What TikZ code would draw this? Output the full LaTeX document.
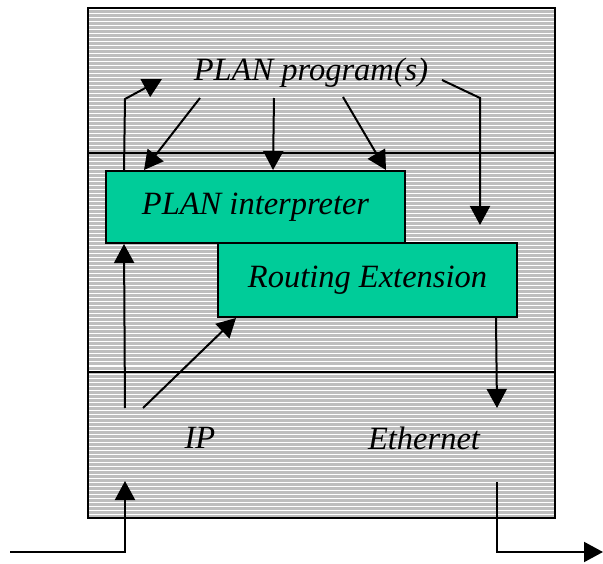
\documentclass[tikz,border=0pt]{standalone}
\usepackage{fontspec}
\setmainfont{Liberation Serif}
\usetikzlibrary{arrows.meta,calc}
\definecolor{stackgray}{RGB}{190,190,190}
\definecolor{modgreen}{RGB}{0,204,153}
\begin{document}
\begin{tikzpicture}[x=1pt,y=-1pt,
  frame/.style={draw=black,line width=2pt},
  modbox/.style={draw=black,line width=2pt,fill=modgreen,minimum width=299pt,
    inner sep=0pt,font=\fontsize{32.5}{38}\selectfont\itshape},
  caption/.style={inner sep=0pt,font=\fontsize{32.5}{38}\selectfont\itshape},
  arr/.style={line width=2pt,-{Triangle[length=19pt,width=20pt]}},
  plain/.style={line width=2pt}]
\useasboundingbox (0,0) rectangle (603,564);

% layered protocol stack with horizontal hatching
\fill[stackgray] (88,8) rectangle (555,518);
\begin{scope}
  \clip (88,8) rectangle (555,518);
  \foreach \y in {10,14,...,518}
    \draw[white,line width=1pt] (88,\y) -- (555,\y);
\end{scope}
\draw[frame] (88,8) rectangle (555,518);
\draw[frame] (88,153) -- (555,153);
\draw[frame] (88,372) -- (555,372);

% modules and labels
\node[modbox,minimum height=72pt] (interp) at (255.5,207) {PLAN interpreter};
\node[modbox,minimum height=74pt] (route) at (367.5,280) {Routing Extension};
\node[caption] (prog) at (311,73) {PLAN program(s)};
\node[caption] (ip) at (200,438) {IP};
\node[caption] (eth) at (424,438) {Ethernet};

% free ends of the connectors
\coordinate (upbend) at (125,99);
\coordinate (uptip) at (162,79);
\coordinate (pA) at (200,98);
\coordinate (pB) at (274,98);
\coordinate (pC) at (343,97);
\coordinate (pD) at (442,80);
\coordinate (pDbend) at (480,98);
\coordinate (pDtip) at (480,225);
\coordinate (ipA) at (125,408);
\coordinate (ipB) at (143,408);
\coordinate (ethIn) at (497,408);
\coordinate (inStart) at (10,552);
\coordinate (inTip) at (125,481);
\coordinate (outStart) at (497,482);
\coordinate (outTip) at (603,552);

% program flow
\draw[arr] ($(interp.north west)+(19,0)$) -- (upbend) -- (uptip);
\draw[arr] (pA) -- ($(interp.north west)+(39,0)$);
\draw[arr] (pB) -- ($(interp.north west)+(168,0)$);
\draw[arr] (pC) -- ($(interp.north west)+(281,0)$);
\draw[arr] (pD) -- (pDbend) -- (pDtip);

% packet flow through the layers
\draw[arr] (ipA) -- ($(interp.south west)+(19,0)$);
\draw[arr] (ipB) -- ($(route.south west)+(19,0)$);
\draw[arr] ($(route.south west)+(279,0)$) -- (ethIn);
\draw[arr] (inStart) -| (inTip);
\draw[arr] (outStart) |- (outTip);
\end{tikzpicture}
\end{document}
